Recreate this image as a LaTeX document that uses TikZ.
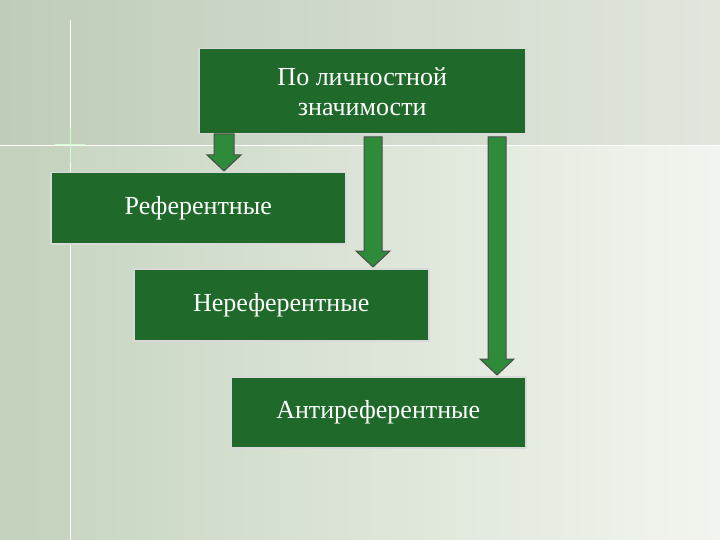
\documentclass[tikz,border=0pt]{standalone}
\usepackage{fontspec}
\setmainfont{Liberation Serif}
\definecolor{boxg}{HTML}{1F6A2A}
\definecolor{arrg}{HTML}{2E8B3A}
\definecolor{bgA}{HTML}{C5D3BE}
\definecolor{bgB}{HTML}{F2F5EF}
\tikzset{
 box/.style={draw=black!15, line width=1.5pt, fill=boxg, text=white, font=\fontsize{26}{30}\selectfont, align=center, anchor=north west, inner sep=0pt},
 barrow/.style={draw=black!70, fill=arrg, line width=1pt}
}
\newcommand\blockarr[5]{% x, y1, y2, shaft half, head half
 \draw[barrow] (#1-#4,#2) -- (#1+#4,#2) -- (#1+#4,#3-16) -- (#1+#5,#3-16) -- (#1,#3) -- (#1-#5,#3-16) -- (#1-#4,#3-16) -- cycle;}
\begin{document}
\begin{tikzpicture}[x=1pt,y=-1pt]
\useasboundingbox (0,0) rectangle (720,540);
\shade[left color=bgA, right color=bgB] (0,0) rectangle (720,540);
\fill[bgA!85!black!90, opacity=0.25] (0,0) rectangle (720,145);
\fill[bgA, opacity=0.5] (0,145) rectangle (70,540);
\draw[white, line width=0.8pt] (0,145) -- (720,145);
\draw[white, line width=0.8pt] (70,20) -- (70,540);
\draw[white!80!green, line width=1pt] (55,145) -- (85,145) (70,128) -- (70,162);
\node[box, minimum width=327, minimum height=85] (top) at (198,48) {По личностной\\значимости};
\node[box, minimum width=295, minimum height=71] (ref) at (50,172) {Референтные};
\node[box, minimum width=295, minimum height=72] (neref) at (133,268) {Нереферентные};
\node[box, minimum width=295, minimum height=71] (anti) at (230,376) {Антиреферентные};
\blockarr{224}{134}{171}{10}{17}
\blockarr{373}{137}{267}{9}{17}
\blockarr{497}{137}{375}{9}{17}
\end{tikzpicture}
\end{document}
